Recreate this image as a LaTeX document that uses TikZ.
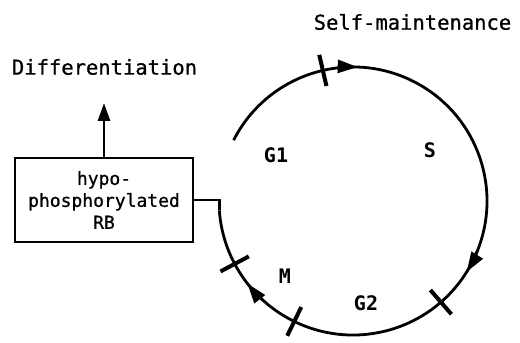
\documentclass[tikz,border=0pt]{standalone}
\usepackage{fontspec}
\setmonofont{DejaVu Sans Mono}
\newfontfamily\medmono{DejaVu Sans Mono}[FakeBold=0.8]
\usetikzlibrary{arrows.meta}
\begin{document}
\begin{tikzpicture}[x=1pt,y=1pt,
  cycleline/.style={line width=2.8pt},
  phasetick/.style={line width=4pt},
  flowtip/.style={-{Triangle[length=20pt,width=13pt]}},
  heading/.style={font=\medmono\fontsize{20.5}{24}\selectfont},
  phase/.style={font=\ttfamily\bfseries\fontsize{20}{24}\selectfont},
  rbbox/.style={draw,line width=2.6pt,minimum width=178pt,minimum height=84pt,
    align=center,inner sep=0pt,font=\medmono\fontsize{18}{22}\selectfont}]
\useasboundingbox (0,0) rectangle (520,343);

% cell cycle circle
\coordinate (c) at (353,142);
\draw[cycleline] (c) ++(153:134) arc[start angle=153,end angle=-176,radius=134]
  coordinate (exit);

% direction arrows on the cycle
\draw[cycleline,flowtip] (c) ++(97:134) arc[start angle=97,end angle=88,radius=134];
\draw[cycleline,flowtip] (c) ++(-22:134) arc[start angle=-22,end angle=-32,radius=134];
\draw[cycleline,flowtip] (c) ++(-132:134) arc[start angle=-132,end angle=-142,radius=134];

% phase boundaries
\foreach \a in {103,-49,-116,-152}
  \draw[phasetick] (c) ++(\a:118) -- ++(\a:32);

% phase labels
\node[phase] (g1) at (276,188) {G1};
\node[phase] (s)  at (430,193) {S};
\node[phase] (m)  at (285,67)  {M};
\node[phase] (g2) at (366,40)  {G2};

% hypophosphorylated RB box and its links
\node[rbbox] (rb) at (104,143) {hypo-\\phosphorylated\\RB};
\draw[line width=2.4pt,line join=miter] (rb.east) -- (exit |- rb.east) -- (exit);
\coordinate (diff) at (104,240);
\draw[line width=2.8pt,-{Triangle[length=18pt,width=12pt]}] (rb.north) -- (diff);

\node[heading] (dl) at (104.5,276) {Differentiation};
\node[heading] (sm) at (412.5,321) {Self-maintenance};
\end{tikzpicture}
\end{document}
